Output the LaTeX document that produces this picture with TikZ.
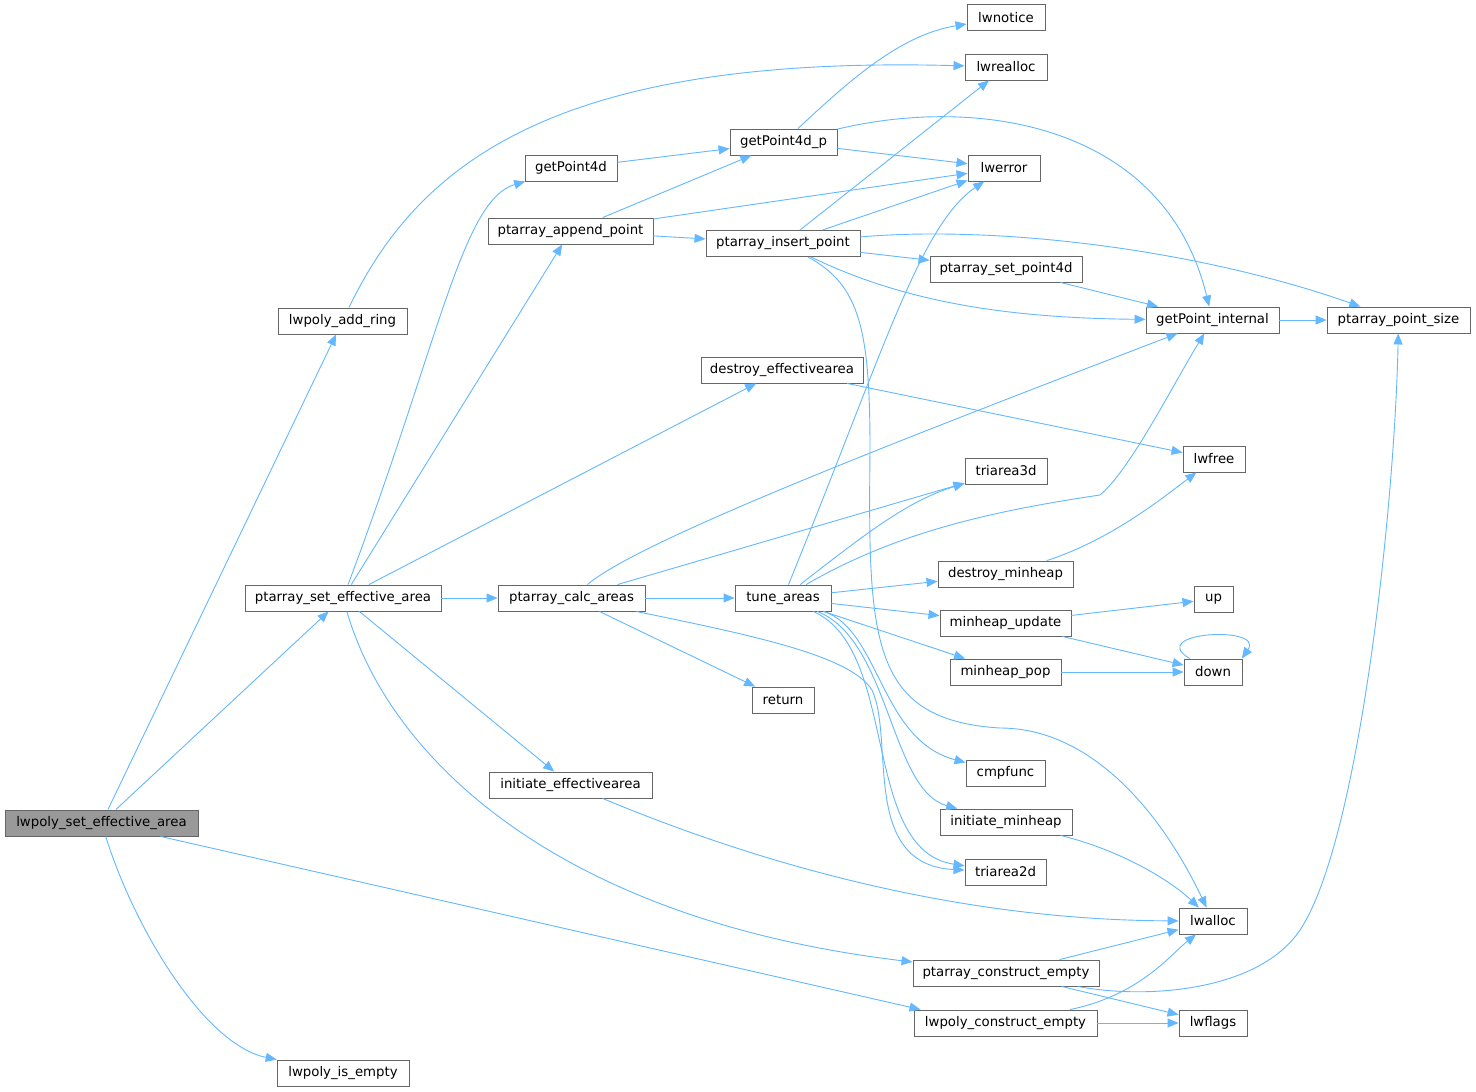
\documentclass[tikz,border=0pt]{standalone}
\usepackage{fontspec}
\setmainfont{DejaVu Sans}
\usetikzlibrary{arrows.meta}
\definecolor{edgecol}{HTML}{63B8FF}
\definecolor{nodeborder}{HTML}{666666}
\definecolor{rootfill}{HTML}{999999}
\tikzset{
  box/.style={draw=nodeborder, line width=0.9pt, fill=white, rectangle, minimum height=26pt, inner sep=0pt, font=\fontsize{13.3}{16}\selectfont},
  conn/.style={draw=edgecol, line width=0.9pt, -{Triangle[length=11pt,width=9pt]}}
}
\begin{document}
\begin{tikzpicture}[x=1pt,y=-1pt]
\useasboundingbox[fill=white] (0,0) rectangle (1476,1092);
% nodes
\node[box, fill=rootfill, minimum width=193pt] (root) at (101.5,823) {lwpoly\_set\_effective\_area};
\node[box, minimum width=129pt] (addring) at (342.5,321) {lwpoly\_add\_ring};
\node[box, minimum width=196pt] (psea) at (343,598) {ptarray\_set\_effective\_area};
\node[box, minimum width=132pt] (isempty) at (343,1073) {lwpoly\_is\_empty};
\node[box, minimum width=183pt] (lpce) at (1005.5,1023) {lwpoly\_construct\_empty};
\node[box, minimum width=92pt] (gp4d) at (571,168) {getPoint4d};
\node[box, minimum width=165pt] (pap) at (570.5,231) {ptarray\_append\_point};
\node[box, minimum width=162pt] (dea) at (782,370) {destroy\_effectivearea};
\node[box, minimum width=147pt] (pca) at (571.5,598) {ptarray\_calc\_areas};
\node[box, minimum width=163pt] (iea) at (570.5,785) {initiate\_effectivearea};
\node[box, minimum width=186pt] (ppce) at (1006,973) {ptarray\_construct\_empty};
\node[box, minimum width=107pt] (gp4dp) at (783.5,142) {getPoint4d\_p};
\node[box, minimum width=154pt] (pip) at (783,243.5) {ptarray\_insert\_point};
\node[box, minimum width=78pt] (lwnotice) at (1006,17.5) {lwnotice};
\node[box, minimum width=82pt] (lwrealloc) at (1006,67) {lwrealloc};
\node[box, minimum width=72pt] (lwerror) at (1004,168) {lwerror};
\node[box, minimum width=152pt] (pspd) at (1006,269) {ptarray\_set\_point4d};
\node[box, minimum width=133pt] (gpi) at (1212.5,320) {getPoint\_internal};
\node[box, minimum width=143pt] (pps) at (1398.5,320) {ptarray\_point\_size};
\node[box, minimum width=62pt] (lwfree) at (1214,459) {lwfree};
\node[box, minimum width=82pt] (triarea3d) at (1006,471) {triarea3d};
\node[box, minimum width=96pt] (tune) at (783,598) {tune\_areas};
\node[box, minimum width=135pt] (dmh) at (1005.5,574) {destroy\_minheap};
\node[box, minimum width=39pt] (up) at (1213.5,599) {up};
\node[box, minimum width=131pt] (mhu) at (1005.5,623) {minheap\_update};
\node[box, minimum width=111pt] (mhp) at (1005.5,672) {minheap\_pop};
\node[box, minimum width=58pt] (down) at (1213,672) {down};
\node[box, minimum width=62pt] (return) at (783,700) {return};
\node[box, minimum width=79pt] (cmpfunc) at (1005.5,773) {cmpfunc};
\node[box, minimum width=132pt] (imh) at (1006,822) {initiate\_minheap};
\node[box, minimum width=81pt] (triarea2d) at (1005.5,872) {triarea2d};
\node[box, minimum width=68pt] (lwalloc) at (1213,921) {lwalloc};
\node[box, minimum width=68pt] (lwflags) at (1213,1023) {lwflags};
% edges
\draw[conn] (root) -- (addring);
\draw[conn] (root) -- (psea);
\draw[conn] (root) .. controls (135,930) and (205,1045) .. (isempty);
\draw[conn] (root) -- (lpce.171);
\draw[conn] (addring) .. controls (420,160) and (560,55) .. (lwrealloc);
\draw[conn] (psea) .. controls (440,340) and (462,200) .. (gp4d);
\draw[conn] (psea) -- (pap);
\draw[conn] (psea) -- (dea);
\draw[conn] (psea) -- (pca);
\draw[conn] (psea) -- (iea);
\draw[conn] (psea) .. controls (390,760) and (560,920) .. (ppce);
\draw[conn] (gp4d) -- (gp4dp);
\draw[conn] (pap) -- (gp4dp);
\draw[conn] (pap) -- (lwerror);
\draw[conn] (pap) -- (pip);
\draw[conn] (gp4dp) .. controls (850,80) and (900,35) .. (lwnotice);
\draw[conn] (gp4dp) -- (lwerror);
\draw[conn] (gp4dp) .. controls (980,95) and (1165,125) .. (gpi);
\draw[conn] (pip) -- (lwrealloc);
\draw[conn] (pip) -- (lwerror);
\draw[conn] (pip) .. controls (1000,225) and (1200,250) .. (pps);
\draw[conn] (pip) -- (pspd);
\draw[conn] (pip) .. controls (900,300) and (1000,318) .. (gpi);
\draw[conn] (pip) .. controls (860,285) and (870,330) .. (870,450) .. controls (868,640) and (870,720) .. (1000,728) .. controls (1090,728) and (1160,810) .. (lwalloc);
\draw[conn] (pspd) -- (gpi);
\draw[conn] (gpi) -- (pps);
\draw[conn] (dea) -- (lwfree);
\draw[conn] (pca) .. controls (640,540) and (900,440) .. (gpi);
\draw[conn] (pca) -- (triarea3d);
\draw[conn] (pca) -- (tune);
\draw[conn] (pca) -- (return);
\draw[conn] (pca) .. controls (750,635) and (850,655) .. (872,690) .. controls (895,740) and (860,865) .. (triarea2d);
\draw[conn] (tune) .. controls (883,353) and (920,225) .. (lwerror);
\draw[conn] (tune) .. controls (900,530) and (1000,510) .. (1100,495) .. controls (1130,470) and (1170,390) .. (gpi);
\draw[conn] (tune) .. controls (870,530) and (910,500) .. (triarea3d);
\draw[conn] (tune) -- (dmh);
\draw[conn] (tune) -- (mhu);
\draw[conn] (tune) -- (mhp);
\draw[conn] (tune) .. controls (880,630) and (880,740) .. (cmpfunc);
\draw[conn] (tune) .. controls (890,640) and (890,790) .. (imh);
\draw[conn] (tune) .. controls (900,650) and (860,850) .. (triarea2d);
\draw[conn] (dmh) .. controls (1110,540) and (1160,500) .. (lwfree);
\draw[conn] (mhu) -- (up);
\draw[conn] (mhu) -- (down);
\draw[conn] (mhp) -- (down);
\draw[conn] (down.150) .. controls (1145,632) and (1265,625) .. (down.25);
\draw[conn] (imh) .. controls (1120,850) and (1170,880) .. (lwalloc);
\draw[conn] (iea) .. controls (750,860) and (950,920) .. (lwalloc);
\draw[conn] (ppce) -- (lwalloc);
\draw[conn] (ppce) .. controls (1150,1000) and (1260,990) .. (1300,930) .. controls (1360,840) and (1395,500) .. (pps);
\draw[conn] (ppce) -- (lwflags);
\draw[conn] (lpce) .. controls (1140,995) and (1170,955) .. (lwalloc);
\draw[conn] (lpce) -- (lwflags);
\end{tikzpicture}
\end{document}
